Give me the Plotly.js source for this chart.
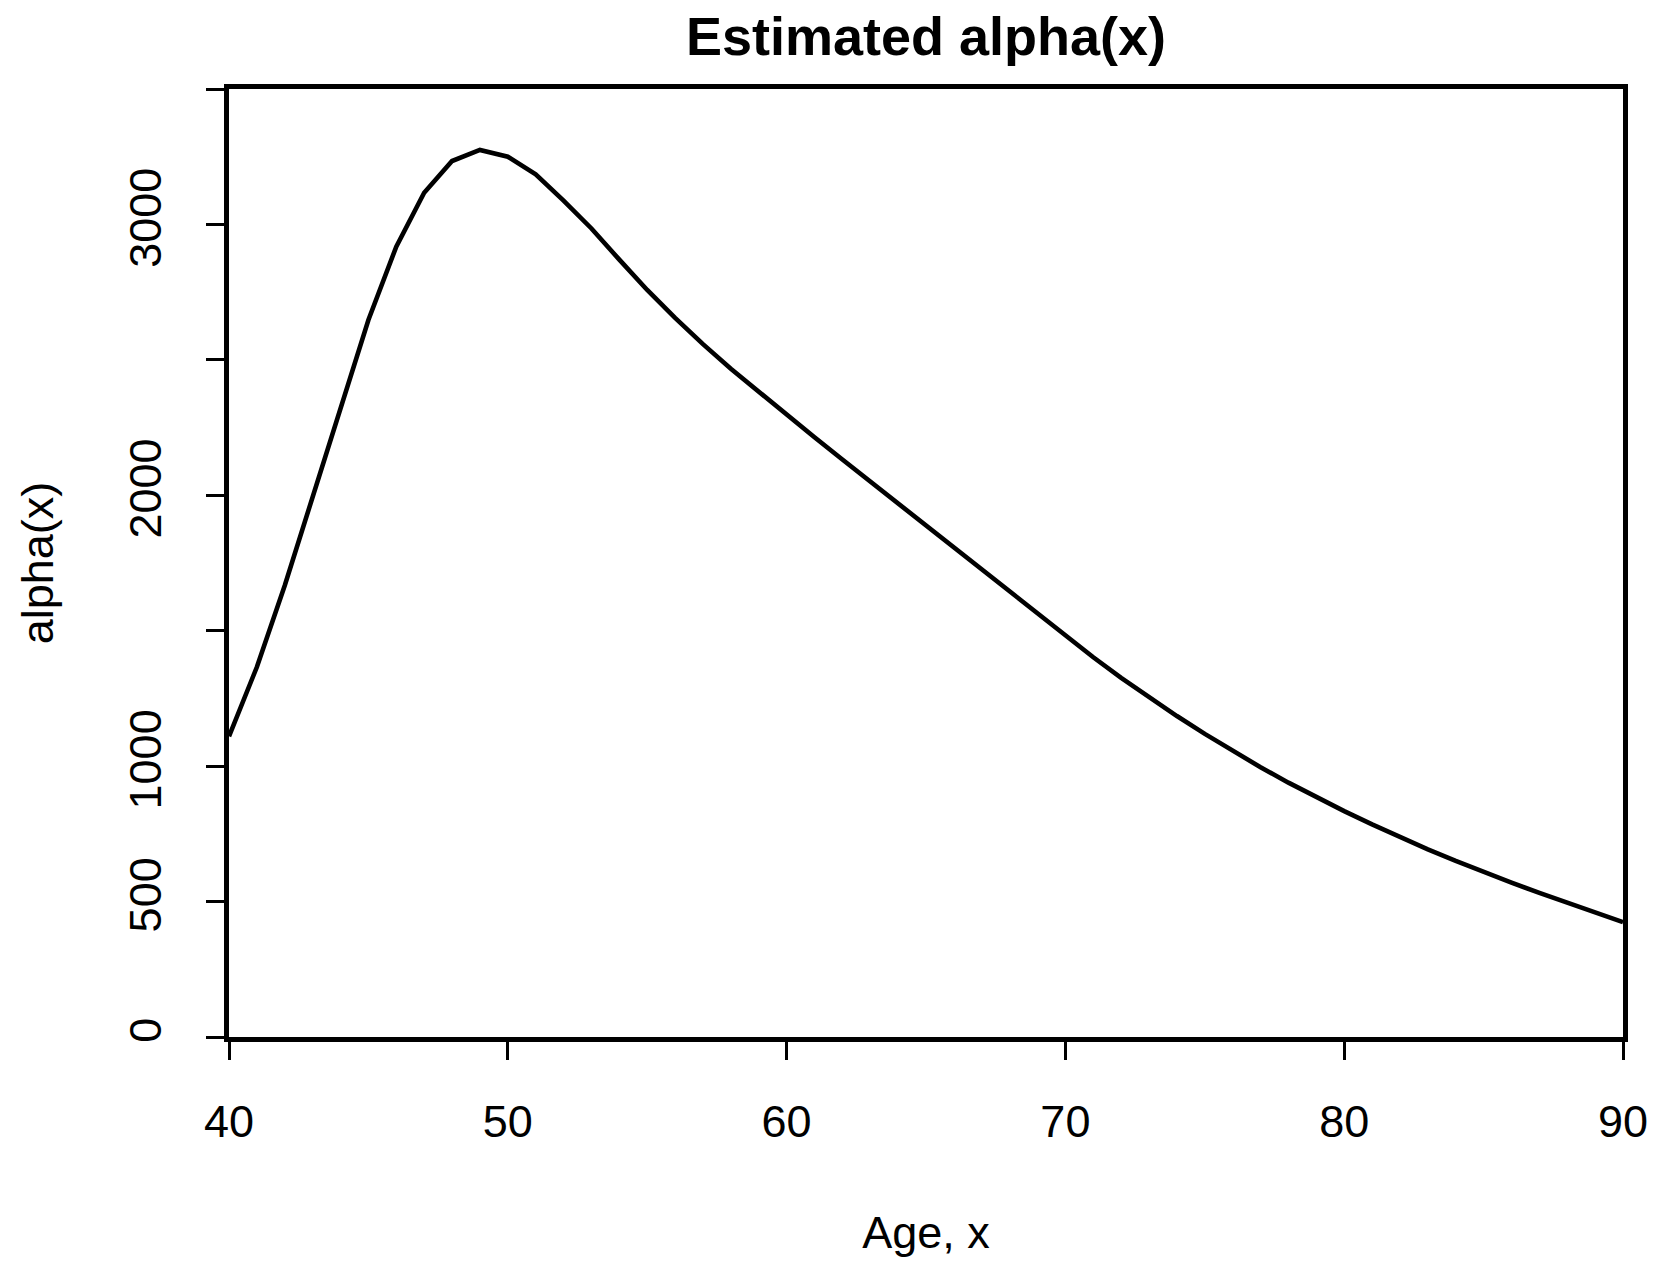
<!DOCTYPE html>
<html>
<head>
<meta charset="utf-8">
<script src="https://cdn.plot.ly/plotly-3.0.1.min.js"></script>
<style>
  html, body { margin: 0; padding: 0; background: #ffffff; }
  #chart { width: 1655px; height: 1262px; }
</style>
</head>
<body>
<div id="chart"></div>
<script>
// Age grid (x) and estimated alpha(x) values
const ages = [40, 41, 42, 43, 44, 45, 46, 47, 48, 49,
              50, 51, 52, 53, 54, 55, 56, 57, 58, 59,
              60, 61, 62, 63, 64, 65, 66, 67, 68, 69,
              70, 71, 72, 73, 74, 75, 76, 77, 78, 79,
              80, 81, 82, 83, 84, 85, 86, 87, 88, 89, 90];
const alphaValues = [1110, 1366, 1667, 1991, 2323, 2647, 2918, 3117, 3234, 3275,
                     3250, 3185, 3088, 2985, 2870, 2758, 2655, 2558, 2467, 2381,
                     2295, 2214, 2132, 2051, 1970, 1888, 1807, 1726, 1644, 1563,
                     1482, 1402, 1326, 1254, 1185, 1119, 1056, 996, 939, 885,
                     834, 785, 738, 693, 650, 609, 570, 532, 495, 459, 424];

const xTickVals = [40, 50, 60, 70, 80, 90];
const xTickText = ['40', '50', '60', '70', '80', '90'];
const yTickVals = [0, 500, 1000, 1500, 2000, 2500, 3000, 3500];
const yTickText = ['0', '500', '1000', '', '2000', '', '3000', ''];

const chartTitle = 'Estimated alpha(x)';
const xTitle = 'Age, x';
const yTitle = 'alpha(x)';

const FONT = 'Liberation Sans, Arial, Helvetica, sans-serif';

const trace = {
  x: ages,
  y: alphaValues,
  type: 'scatter',
  mode: 'lines',
  line: { color: '#000000', width: 4.6 },
  hoverinfo: 'x+y'
};

const layout = {
  width: 1655,
  height: 1262,
  paper_bgcolor: '#ffffff',
  plot_bgcolor: '#ffffff',
  showlegend: false,
  margin: { l: 229, r: 32, t: 89, b: 225, pad: 0 },
  font: { family: FONT, color: '#000000', size: 45 },
  title: {
    text: chartTitle,
    font: { family: FONT, size: 54, weight: 'bold', color: '#000000' },
    x: 0.5, xref: 'paper', xanchor: 'center',
    y: 1 - 36 / 1262, yref: 'container', yanchor: 'middle'
  },
  xaxis: {
    range: [40, 90],
    tickmode: 'array',
    tickvals: xTickVals,
    ticktext: xTickText,
    ticks: 'outside',
    ticklen: 18,
    tickwidth: 2.5,
    tickcolor: '#000000',
    ticklabelstandoff: 23,
    tickfont: { family: FONT, size: 45, color: '#000000' },
    showline: true,
    linewidth: 4.6,
    linecolor: '#000000',
    mirror: true,
    showgrid: false,
    zeroline: false,
    fixedrange: true,
    title: { text: xTitle, font: { family: FONT, size: 45, color: '#000000' }, standoff: 72 }
  },
  yaxis: {
    range: [0, 3500],
    tickmode: 'array',
    tickvals: yTickVals,
    ticktext: yTickText,
    tickangle: -90,
    ticks: 'outside',
    ticklen: 18,
    tickwidth: 2.5,
    tickcolor: '#000000',
    ticklabelstandoff: 27,
    tickfont: { family: FONT, size: 45, color: '#000000' },
    showline: true,
    linewidth: 4.6,
    linecolor: '#000000',
    mirror: true,
    showgrid: false,
    zeroline: false,
    fixedrange: true,
    title: { text: yTitle, font: { family: FONT, size: 45, color: '#000000' }, standoff: 54 }
  }
};

Plotly.newPlot('chart', [trace], layout, { displayModeBar: false, staticPlot: false });
</script>
</body>
</html>
